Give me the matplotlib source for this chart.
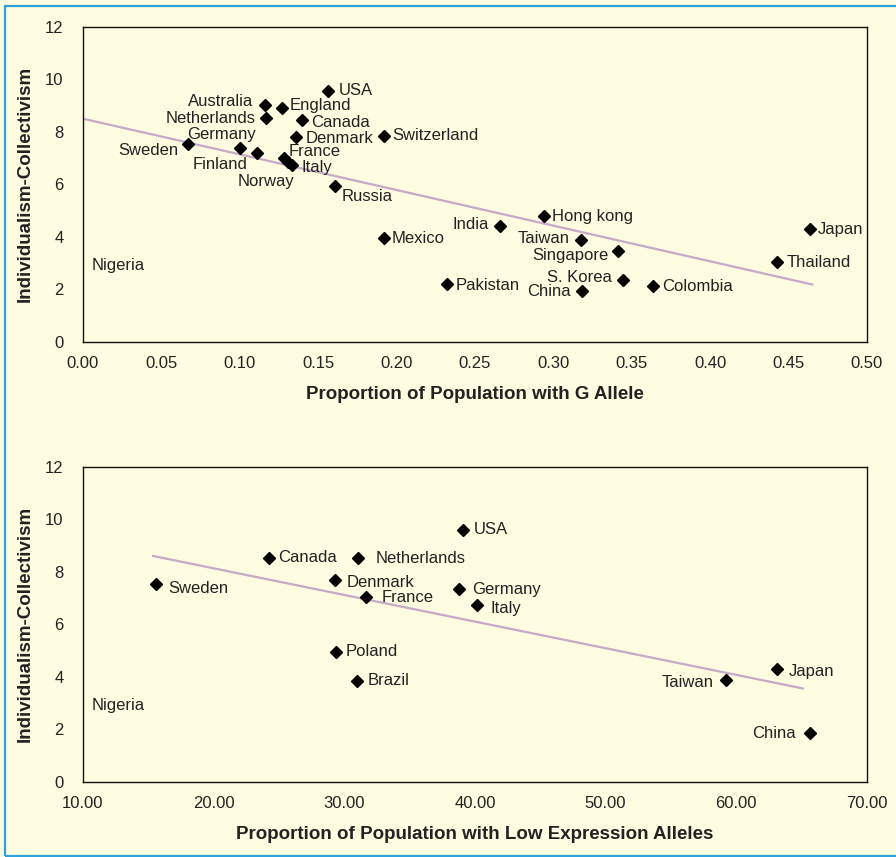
import numpy as np
import matplotlib
matplotlib.use("Agg")
import matplotlib.pyplot as plt
from matplotlib.patches import Rectangle

plt.rcParams['font.family'] = ['Liberation Sans', 'DejaVu Sans']

# top panel: proportion with G allele vs individualism-collectivism
top_countries = ['Sweden', 'Germany', 'Finland', 'Australia', 'Netherlands', 'England',
                 'France', 'Norway', 'Italy', 'Canada', 'Denmark', 'USA', 'Russia',
                 'Switzerland', 'Mexico', 'Pakistan', 'India', 'Hong kong', 'Taiwan',
                 'China', 'Singapore', 'S. Korea', 'Colombia', 'Thailand', 'Japan']
top_x = [0.067, 0.100, 0.111, 0.116, 0.1165, 0.127,
         0.128, 0.1305, 0.133, 0.1395, 0.136, 0.1565, 0.161,
         0.192, 0.192, 0.232, 0.266, 0.294, 0.3176,
         0.318, 0.341, 0.3446, 0.3637, 0.4428, 0.4636]
top_y = [7.52, 7.37, 7.18, 9.04, 8.51, 8.92,
         7.02, 6.87, 6.72, 8.45, 7.81, 9.56, 5.95,
         7.86, 3.96, 2.19, 4.40, 4.79, 3.87,
         1.94, 3.46, 2.36, 2.13, 3.03, 4.29]
top_trend = {'intercept': 8.50, 'slope': -13.57, 'x0': 0.0, 'x1': 0.465}

# bottom panel: proportion with low expression alleles
bot_countries = ['Sweden', 'Canada', 'Netherlands', 'Denmark', 'France', 'Poland',
                 'Brazil', 'USA', 'Germany', 'Italy', 'Taiwan', 'Japan', 'China']
bot_x = [15.61, 24.23, 31.07, 29.31, 31.66, 29.36,
         31.0, 39.11, 38.78, 40.18, 59.18, 63.14, 65.63]
bot_y = [7.52, 8.52, 8.52, 7.67, 7.02, 4.95,
         3.84, 9.58, 7.33, 6.75, 3.87, 4.28, 1.85]
bot_trend = {'intercept': 10.159, 'slope': -0.1015, 'x0': 15.36, 'x1': 65.1}

# label offsets in pixels (dx, dy) and alignment
top_offsets = {
    'Sweden': (-10, -6, 'right'), 'Germany': (-18, 14, 'center'),
    'Finland': (-10, -11, 'right'), 'Australia': (-12, 3, 'right'),
    'Netherlands': (-10, 0, 'right'), 'England': (8, 2, 'left'),
    'France': (5, 6, 'left'), 'Norway': (7, -20, 'right'), 'Italy': (10, -2, 'left'),
    'Canada': (9, -2, 'left'), 'Denmark': (9, -2, 'left'), 'USA': (10, 0, 'left'),
    'Russia': (6, -11, 'left'), 'Switzerland': (8, 0, 'left'), 'Mexico': (8, -1, 'left'),
    'Pakistan': (9, -1, 'left'), 'India': (-11, 2, 'right'), 'Hong kong': (8, 0, 'left'),
    'Taiwan': (-11, 2, 'right'), 'China': (-11, 0, 'right'),
    'Singapore': (-9, -4, 'right'), 'S. Korea': (-11, 3, 'right'),
    'Colombia': (9, 0, 'left'), 'Thailand': (9, 0, 'left'), 'Japan': (8, 0, 'left'),
}
bot_offsets = {
    'Sweden': (12, -4, 'left'), 'Canada': (9, 1, 'left'), 'Netherlands': (17, 0, 'left'),
    'Denmark': (11, -2, 'left'), 'France': (16, 0, 'left'), 'Poland': (10, 0, 'left'),
    'Brazil': (10, 0, 'left'), 'USA': (10, 1, 'left'), 'Germany': (13, 0, 'left'),
    'Italy': (13, -4, 'left'), 'Taiwan': (-12, -2, 'right'), 'Japan': (11, -2, 'left'),
    'China': (-14, 0, 'right'),
}

bg = '#fefce1'
txt = '#222222'

fig = plt.figure(figsize=(8.96, 8.57), dpi=100, facecolor=bg)
fig.patches.append(Rectangle((4.5 / 896, 1.5 / 857), 1.1, 1 - 7 / 857, transform=fig.transFigure,
                             fill=False, edgecolor='#2aa3dc', linewidth=1.6, zorder=0))

ax1 = fig.add_axes([0.0926, 0.6009, 0.875, 0.3679])
ax2 = fig.add_axes([0.0926, 0.0879, 0.875, 0.3675])


def draw(ax, xs, ys, names, offs, trend, xlim, xticks, xfmt, xlabel, nigeria_x):
    ax.set_facecolor(bg)
    tx = np.array([trend['x0'], trend['x1']])
    ax.plot(tx, trend['intercept'] + trend['slope'] * tx, color='#c8a9c9', lw=1.6, zorder=2)
    ax.plot(xs, ys, 'D', color='black', ms=5.8, zorder=3)
    for name, x, y in zip(names, xs, ys):
        dx, dy, ha = offs[name]
        ax.annotate(name, (x, y), xytext=(dx, dy), textcoords='offset pixels',
                    ha=ha, va='center', fontsize=12, color=txt)
    ax.text(nigeria_x, 2.9, 'Nigeria', ha='left', va='center', fontsize=12, color=txt)
    ax.set_xlim(*xlim)
    ax.set_ylim(0, 12)
    ax.set_xticks(xticks)
    ax.set_xticklabels([xfmt.format(v) for v in xticks])
    ax.set_yticks(range(0, 13, 2))
    ax.tick_params(length=0, labelsize=12, labelcolor=txt)
    ax.tick_params(axis='x', pad=10)
    ax.tick_params(axis='y', pad=14)
    for s in ax.spines.values():
        s.set_color('#111111')
        s.set_linewidth(1.0)
    ax.set_xlabel(xlabel, fontsize=13.5, fontweight='bold', color=txt, labelpad=11)
    ax.set_ylabel('Individualism-Collectivism', fontsize=13.5, fontweight='bold',
                  color=txt, labelpad=8)


draw(ax1, top_x, top_y, top_countries, top_offsets, top_trend, (0, 0.5),
     np.arange(0, 0.501, 0.05), '{:.2f}', 'Proportion of Population with G Allele', 0.0055)
draw(ax2, bot_x, bot_y, bot_countries, bot_offsets, bot_trend, (10, 70),
     np.arange(10, 71, 10), '{:.2f}', 'Proportion of Population with Low Expression Alleles', 10.67)

fig.savefig('out.png', dpi=100, facecolor=bg)
